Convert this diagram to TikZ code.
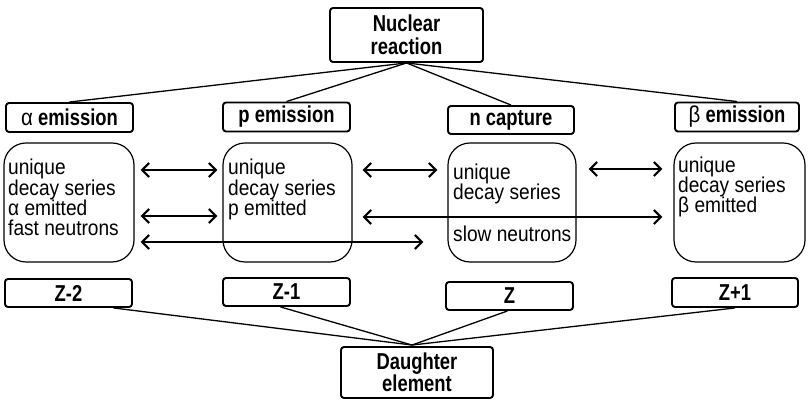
\documentclass[tikz,border=0pt]{standalone}
\usepackage{fontspec}
\setmainfont{Liberation Sans}
\newfontfamily\bodyfont[FakeStretch=0.89]{Liberation Sans}
\newfontfamily\labelfont[FakeStretch=0.8]{Liberation Sans}
\usetikzlibrary{arrows.meta,calc}

\begin{document}
\begin{tikzpicture}[x=1pt,y=1pt,
  tag/.style={draw, line width=1.9pt, rounded corners=3pt, inner sep=0pt,
    minimum width=127pt, minimum height=29pt, align=center,
    font=\labelfont\bfseries\fontsize{23}{22.5}\selectfont},
  card/.style={draw, line width=1.2pt, rounded corners=22pt, inner sep=0pt,
    minimum width=129pt, minimum height=119pt},
  body/.style={anchor=base west, inner sep=0pt,
    font=\bodyfont\fontsize{21.5}{21}\selectfont},
  link/.style={line width=1.3pt},
  twoway/.style={line width=1.6pt,
    {Straight Barb[length=7pt,width=14pt,line width=2.2pt]}-{Straight Barb[length=7pt,width=14pt,line width=2.2pt]}}]

\useasboundingbox (0,0) rectangle (808,401);

% source and result
\node[tag, minimum width=153pt, minimum height=54pt] (nuc) at (406.5,366) {Nuclear\\reaction};
\node[tag, minimum width=152pt, minimum height=51pt] (dau) at (417,28.5) {Daughter\\element};

% process labels
\node[tag] (atag) at (69.5,283.5) {{\bodyfont\mdseries α} emission};
\node[tag] (ptag) at (286.5,284) {p emission};
\node[tag, minimum width=126pt, minimum height=28pt] (ntag) at (511,281) {n capture};
\node[tag, minimum width=124pt] (btag) at (737,284) {{\bodyfont\mdseries β} emission};

% description cards
\node[card, minimum width=130pt] (acard) at (69,198.5) {};
\node[card] (pcard) at (287.5,198.5) {};
\node[card, minimum width=128pt] (ncard) at (512,198.5) {};
\node[card, minimum width=131pt] (bcard) at (739.5,198.5) {};

\node[body] (a1) at (8,226) {unique};
\node[body] (a2) at (8,205.5) {decay series};
\node[body] (a3) at (8,185) {α emitted};
\node[body] (a4) at (8,165) {fast neutrons};

\node[body] (p1) at (228,226) {unique};
\node[body] (p2) at (228,205.5) {decay series};
\node[body] (p3) at (228,185) {p emitted};

\node[body] (n1) at (453,221) {unique};
\node[body] (n2) at (453,201) {decay series};
\node[body] (n3) at (453,159) {slow neutrons};

\node[body] (b1) at (678,228) {unique};
\node[body] (b2) at (678,208) {decay series};
\node[body] (b3) at (678,188) {β emitted};

% atomic number boxes
\node[tag, minimum height=28pt] (z2) at (68.5,108) {Z-2};
\node[tag, minimum height=28pt] (z1) at (286.5,109) {Z-1};
\node[tag, minimum height=28pt] (z0) at (509.5,105) {Z};
\node[tag, minimum width=126pt] (z3) at (735,108.5) {Z+1};

% fan-out from the reaction
\draw[link] (nuc.south) -- (atag.north);
\draw[link] (nuc.south) -- (ptag.north);
\draw[link] (nuc.south) -- (ntag.north);
\draw[link] (nuc.south) -- (btag.north);

% fan-in to the daughter element
\coordinate (join) at ($(dau.north)+(-5,1)$);
\draw[link] ($(z2.south)+(45,0)$) -- (join);
\draw[link] ($(z1.south)+(-6,0)$) -- (join);
\draw[link] ($(z0.south)+(-2,0)$) -- (join);
\draw[link] (z3.south) -- (join);

% comparison arrows
\coordinate (r1) at (0,231);
\coordinate (r2) at (0,185);
\coordinate (r3) at (0,159);
\draw[twoway] ($(acard.east|-r1)+(6,0)$) -- ($(pcard.west|-r1)+(-5,0)$);
\draw[twoway] ($(acard.east|-r2)+(6,0)$) -- ($(pcard.west|-r2)+(-5,0)$);
\draw[twoway] ($(acard.east|-r3)+(6,0)$) -- ($(ncard.west|-r3)+(-24,0)$);
\draw[twoway] ($(pcard.east|-r1)+(10,0)$) -- ($(ncard.west|-r1)+(-10,0)$);
\draw[twoway] ($(pcard.east|-r2)+(10,-1)$) -- ($(bcard.west|-r2)+(-11,-1)$);
\draw[twoway] ($(ncard.east|-r1)+(12,1)$) -- ($(bcard.west|-r1)+(-11,1)$);
\end{tikzpicture}
\end{document}
